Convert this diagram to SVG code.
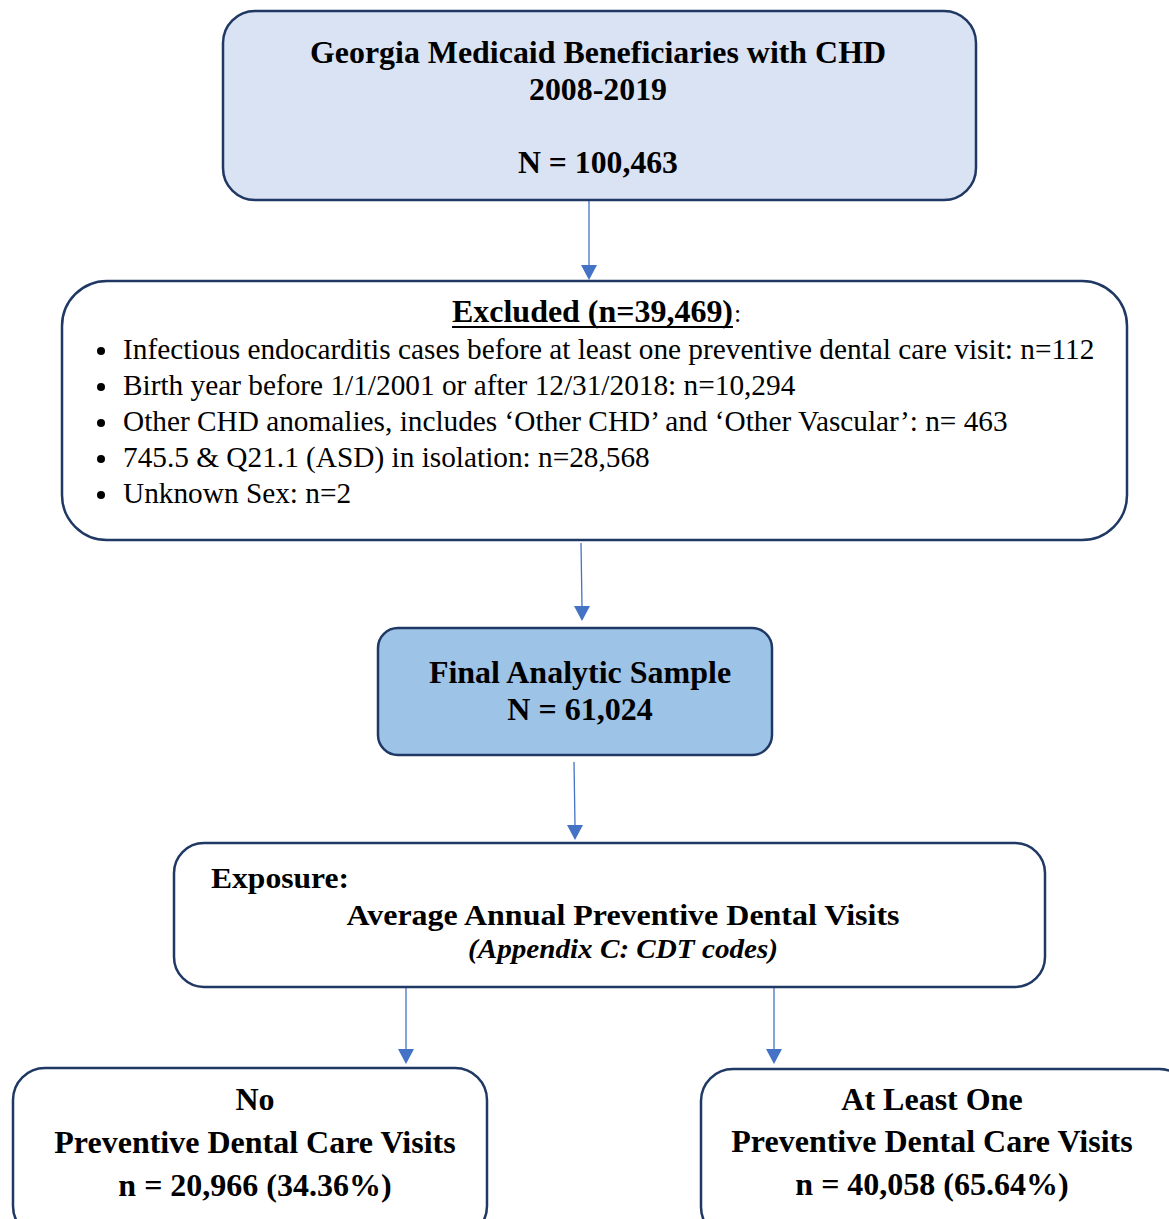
<svg xmlns="http://www.w3.org/2000/svg" width="1169" height="1219" viewBox="0 0 1169 1219">
<style>
.box{stroke:#1f3864;stroke-width:2.5}
.b{font-family:"Liberation Serif",serif;font-weight:bold;fill:#000}
.r{font-family:"Liberation Serif",serif;fill:#000}
.c{stroke:#4472c4;stroke-width:1.3;fill:none}
.ah{fill:#4472c4}
</style>
<rect width="1169" height="1219" fill="#fff"/>
<g id="connectors">
<line class="c" x1="589" y1="201" x2="589" y2="266"/>
<path class="ah" d="M581,265 L597,265 L589,280 z"/>
<line class="c" x1="581" y1="543" x2="582" y2="607"/>
<path class="ah" d="M574,606 L590,606 L582,621 z"/>
<line class="c" x1="574" y1="762" x2="575" y2="826"/>
<path class="ah" d="M567,825 L583,825 L575,840 z"/>
<line class="c" x1="406" y1="988" x2="406" y2="1050"/>
<path class="ah" d="M398,1049 L414,1049 L406,1064 z"/>
<line class="c" x1="774" y1="988" x2="774" y2="1050"/>
<path class="ah" d="M766,1049 L782,1049 L774,1064 z"/>
</g>
<g id="node-population">
<rect class="box" x="223" y="11" width="753" height="189" rx="32" fill="#dae3f3"/>
<text class="b" x="598" y="63" font-size="31" text-anchor="middle" textLength="576" lengthAdjust="spacingAndGlyphs">Georgia Medicaid Beneficiaries with CHD</text>
<text class="b" x="598" y="100" font-size="31" text-anchor="middle" textLength="138" lengthAdjust="spacingAndGlyphs">2008-2019</text>
<text class="b" x="598" y="173" font-size="31" text-anchor="middle" textLength="160" lengthAdjust="spacingAndGlyphs">N = 100,463</text>
</g>
<g id="node-excluded">
<rect class="box" x="62" y="281" width="1065" height="259" rx="45" fill="#fff"/>
<text class="b" x="452" y="322" font-size="32" textLength="281" lengthAdjust="spacingAndGlyphs">Excluded (n=39,469)</text>
<line x1="452" y1="327" x2="733" y2="327" stroke="#000" stroke-width="2"/>
<text class="r" x="734" y="322" font-size="26">:</text>
<g class="r" font-size="29.3">
<circle cx="101" cy="351" r="4" fill="#000"/>
<text x="123" y="359">Infectious endocarditis cases before at least one preventive dental care visit: n=112</text>
<circle cx="101" cy="387" r="4" fill="#000"/>
<text x="123" y="395">Birth year before 1/1/2001 or after 12/31/2018: n=10,294</text>
<circle cx="101" cy="423" r="4" fill="#000"/>
<text x="123" y="431">Other CHD anomalies, includes ‘Other CHD’ and ‘Other Vascular’: n= 463</text>
<circle cx="101" cy="459" r="4" fill="#000"/>
<text x="123" y="467">745.5 &amp; Q21.1 (ASD) in isolation: n=28,568</text>
<circle cx="101" cy="495" r="4" fill="#000"/>
<text x="123" y="503">Unknown Sex: n=2</text>
</g>
</g>
<g id="node-final">
<rect class="box" x="378" y="628" width="394" height="127" rx="20" fill="#9dc3e6"/>
<text class="b" x="580" y="683" font-size="32" text-anchor="middle">Final Analytic Sample</text>
<text class="b" x="580" y="720" font-size="32" text-anchor="middle">N = 61,024</text>
</g>
<g id="node-exposure">
<rect class="box" x="174" y="843" width="871" height="144" rx="30" fill="#fff"/>
<text class="b" x="211" y="888" font-size="30" textLength="138" lengthAdjust="spacingAndGlyphs">Exposure:</text>
<text class="b" x="623" y="925" font-size="30" text-anchor="middle" textLength="553" lengthAdjust="spacingAndGlyphs">Average Annual Preventive Dental Visits</text>
<text class="b" x="623" y="958" font-size="28" font-style="italic" text-anchor="middle" textLength="310" lengthAdjust="spacingAndGlyphs">(Appendix C: CDT codes)</text>
</g>
<g id="node-no">
<rect class="box" x="13" y="1068" width="474" height="170" rx="32" fill="#fff"/>
<text class="b" x="255" y="1110" font-size="32" text-anchor="middle">No</text>
<text class="b" x="255" y="1153" font-size="32" text-anchor="middle">Preventive Dental Care Visits</text>
<text class="b" x="255" y="1196" font-size="32" text-anchor="middle">n = 20,966 (34.36%)</text>
</g>
<g id="node-atleastone">
<rect class="box" x="701" y="1069" width="490" height="170" rx="32" fill="#fff"/>
<text class="b" x="932" y="1110" font-size="32" text-anchor="middle">At Least One</text>
<text class="b" x="932" y="1152" font-size="32" text-anchor="middle">Preventive Dental Care Visits</text>
<text class="b" x="932" y="1195" font-size="32" text-anchor="middle">n = 40,058 (65.64%)</text>
</g>
</svg>
